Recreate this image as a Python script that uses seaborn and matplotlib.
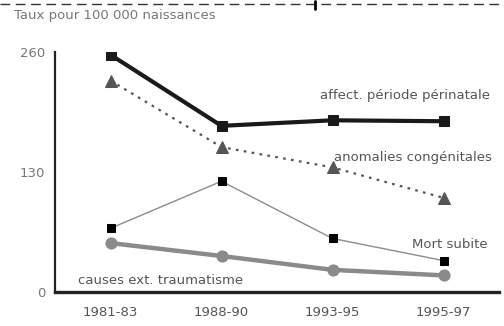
import matplotlib
matplotlib.use("Agg")
import matplotlib.pyplot as plt
import seaborn as sns
import pandas as pd
from matplotlib.lines import Line2D

periods = ["1981-83", "1988-90", "1993-95", "1995-97"]
perinatale = [257, 180, 186, 185]
anomalies = [229, 157, 135, 102]
mort_subite = [69, 120, 58, 34]
causes_ext = [53, 39, 24, 18]
yticks = [0, 130, 260]
title = "Taux pour 100 000 naissances"
labels = ["affect. période périnatale", "anomalies congénitales", "Mort subite", "causes ext. traumatisme"]

sns.set_style("white")
plt.rcParams['font.family'] = ['DejaVu Sans']

fig = plt.figure(figsize=(5.04, 3.26), dpi=100)
ax = fig.add_axes([55/504, 1-292/326, (499-55)/504, (292-52)/326])

def df(vals):
    return pd.DataFrame({"period": periods, "value": vals})

sns.lineplot(data=df(causes_ext), x="period", y="value", ax=ax, color="#8a8a8a",
             linewidth=3.2, marker="o", markersize=8, markeredgecolor="#8a8a8a", sort=False)
sns.lineplot(data=df(mort_subite), x="period", y="value", ax=ax, color="#8c8c8c",
             linewidth=1.0, marker="s", markersize=6, markerfacecolor="black",
             markeredgecolor="black", sort=False)
sns.lineplot(data=df(anomalies), x="period", y="value", ax=ax, color="#555555",
             linewidth=1.6, linestyle=(0, (1.2, 2.4)), marker="^", markersize=8,
             markerfacecolor="#555555", markeredgecolor="#555555", sort=False)
sns.lineplot(data=df(perinatale), x="period", y="value", ax=ax, color="#1a1a1a",
             linewidth=3.0, marker="s", markersize=7, markeredgecolor="#1a1a1a", sort=False)

ax.set_xlim(-0.5, 3.5)
ax.set_ylim(0, 260)
ax.set_xlabel("")
ax.set_ylabel("")
ax.set_yticks(yticks)
ax.set_yticklabels([str(v) for v in yticks], color="#777777", fontsize=9.5)
ax.set_xticks(range(len(periods)))
ax.set_xticklabels(periods, color="#555555", fontsize=9.5)
ax.set_xticks([-0.5, 0.5, 1.5, 2.5, 3.5], minor=True)
ax.tick_params(axis="x", which="major", length=0, pad=10)
ax.tick_params(axis="x", which="minor", length=3, width=2, direction="out", color="black")
ax.tick_params(axis="y", which="major", length=3, width=2, direction="out", color="black", pad=4)
for s in ["top", "right"]:
    ax.spines[s].set_visible(False)
ax.spines["left"].set_linewidth(1.6)
ax.spines["bottom"].set_linewidth(2.4)
ax.spines["left"].set_color("#222222")
ax.spines["bottom"].set_color("#222222")
ax.patch.set_alpha(0)

tc = "#555555"
fs = 9.5
ax.text(3.42, 213, labels[0], ha="right", va="center", fontsize=fs, color=tc)
ax.text(3.44, 146, labels[1], ha="right", va="center", fontsize=fs, color=tc)
ax.text(3.4, 51, labels[2], ha="right", va="center", fontsize=fs, color=tc)
ax.text(-0.29, 13, labels[3], ha="left", va="center", fontsize=fs, color=tc)

fig.text(14/504, 1-15/326, title, ha="left", va="center", fontsize=9.5, color="#777777")
fig.add_artist(Line2D([0, 1], [1-4/326, 1-4/326], transform=fig.transFigure,
                      color="#333333", linewidth=1.0, linestyle=(0, (7, 4))))
fig.add_artist(Line2D([315/504, 315/504], [1-1/326, 1-9/326], transform=fig.transFigure,
                      color="black", linewidth=2.0))

fig.savefig("out.png", dpi=100)
